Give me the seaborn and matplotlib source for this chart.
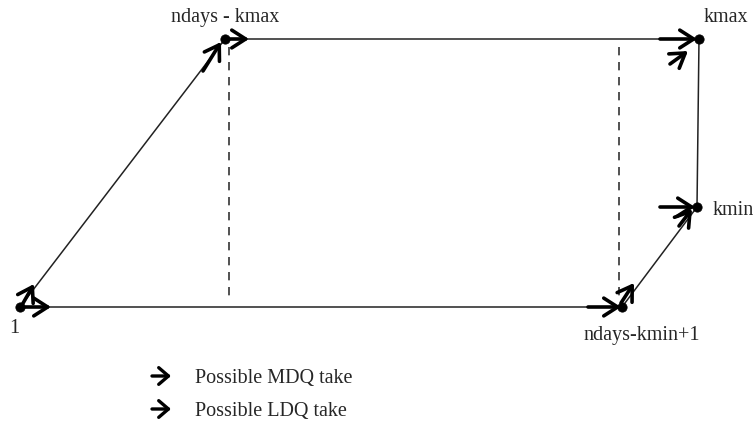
import matplotlib
matplotlib.use("Agg")
import matplotlib.pyplot as plt
import seaborn as sns
import pandas as pd

# Node positions of the diagram (diagram units)
node_labels = ["1", "ndays - kmax", "kmax", "kmin", "ndays-kmin+1"]
node_x = [20, 225, 699, 697, 622]
node_y = [307, 39, 39, 207, 307]

# Edge path (closed polygon through the nodes)
path_order = [0, 1, 2, 3, 4, 0]

# Dashed guide lines
dash_x = [229, 619]
dash_top = [47, 47]
dash_bottom = [302, 298]

# Arrows: (start_x, start_y, end_x, end_y)
arrow_x0 = [20, 22, 225, 203, 660, 670, 660, 679, 588, 621]
arrow_y0 = [307, 305, 39, 71, 39, 64, 207, 226, 307, 303]
arrow_x1 = [51, 34, 249, 221, 697, 688, 695, 692, 621, 634]
arrow_y1 = [307, 284, 39, 42, 39, 51, 207, 209, 307, 283]

legend_texts = ["Possible MDQ take", "Possible LDQ take"]
legend_y = [376, 409]

sns.set_theme(style="white")
plt.rcParams['font.family'] = ['Liberation Serif', 'DejaVu Serif']

fig = plt.figure(figsize=(7.56, 4.21), dpi=100)
ax = fig.add_axes([0, 0, 1, 1])
ax.set_xlim(0, 756)
ax.set_ylim(421, 0)
ax.axis("off")

edges = pd.DataFrame({
    "x": [node_x[i] for i in path_order],
    "y": [node_y[i] for i in path_order],
    "order": range(len(path_order)),
})
sns.lineplot(data=edges, x="x", y="y", sort=False, estimator=None,
             color="#222222", linewidth=1.1, ax=ax)

for x, t, b in zip(dash_x, dash_top, dash_bottom):
    ax.plot([x, x], [t, b], color="#333333", linewidth=1.2, linestyle=(0, (5, 4)))

for x0, y0, x1, y1 in zip(arrow_x0, arrow_y0, arrow_x1, arrow_y1):
    ax.annotate("", xy=(x1, y1), xytext=(x0, y0),
                arrowprops=dict(arrowstyle="->,head_length=0.5,head_width=0.32",
                                color="black", lw=2.6, shrinkA=0, shrinkB=0,
                                mutation_scale=20))

nodes = pd.DataFrame({"x": node_x, "y": node_y})
sns.scatterplot(data=nodes, x="x", y="y", color="black", s=45,
                edgecolor="black", zorder=5, ax=ax)

fs = 14.5
ax.text(14, 333, node_labels[0], fontsize=fs, ha="center", va="baseline")
ax.text(225, 22, node_labels[1], fontsize=fs, ha="center", va="baseline")
ax.text(726, 22, node_labels[2], fontsize=fs, ha="center", va="baseline")
ax.text(733, 215, node_labels[3], fontsize=fs, ha="center", va="baseline")
ax.text(642, 340, node_labels[4], fontsize=fs, ha="center", va="baseline")

for txt, y in zip(legend_texts, legend_y):
    ax.annotate("", xy=(171, y), xytext=(152, y),
                arrowprops=dict(arrowstyle="->,head_length=0.35,head_width=0.3",
                                color="black", lw=2.4, shrinkA=0, shrinkB=0,
                                mutation_scale=20))
    ax.text(195, y + 7, txt, fontsize=fs, ha="left", va="baseline")

fig.savefig("out.png", dpi=100)
